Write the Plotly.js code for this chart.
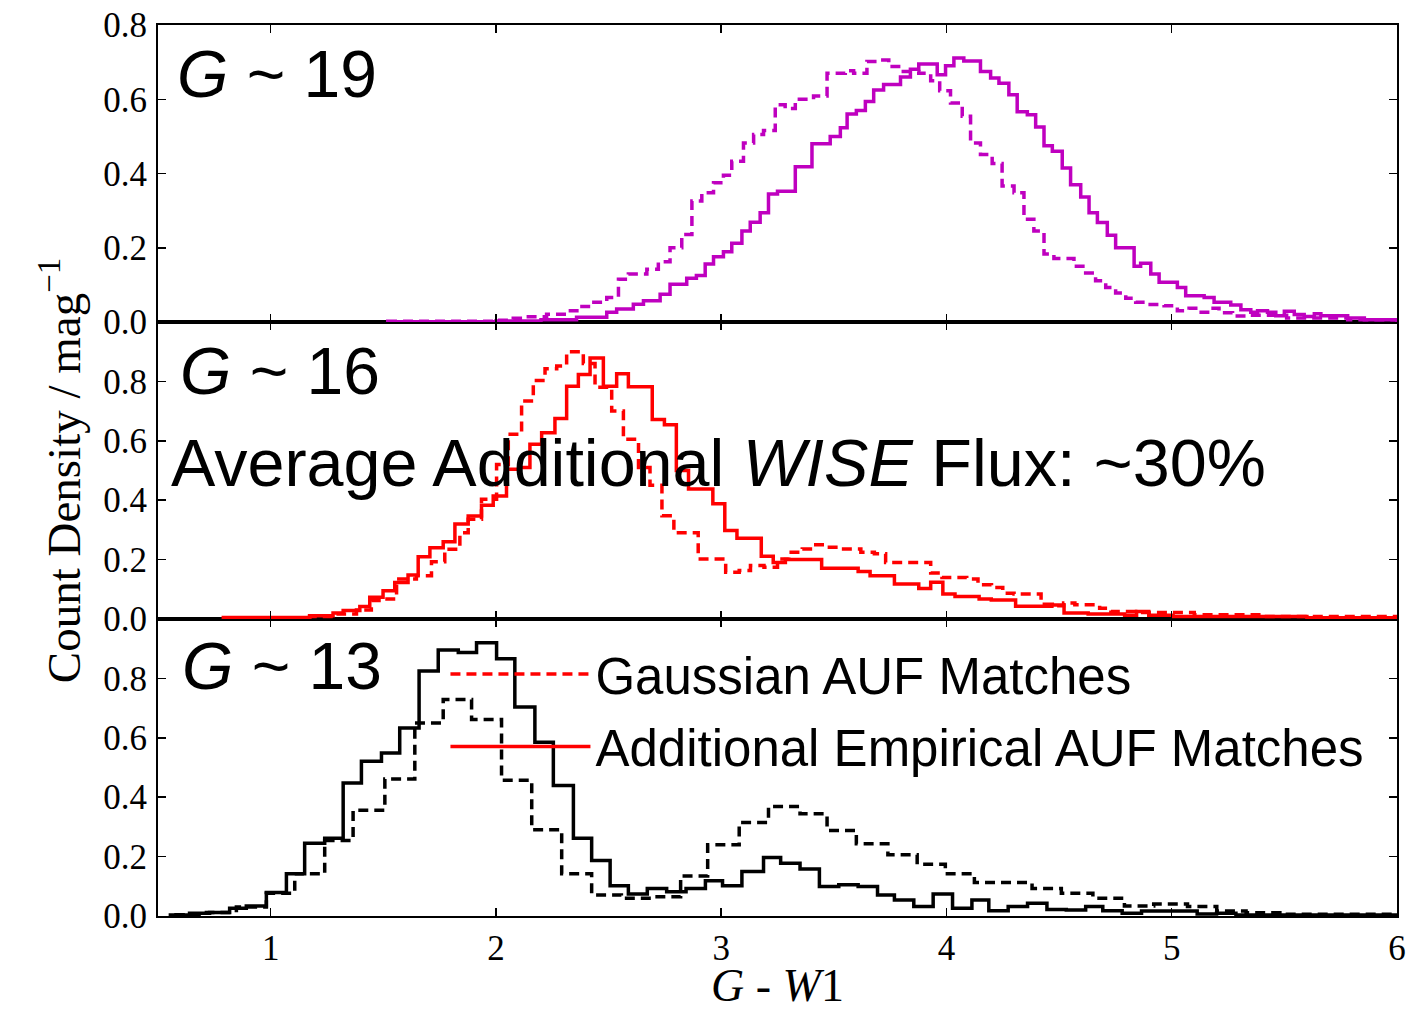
<!DOCTYPE html>
<html>
<head>
<meta charset="utf-8">
<script src="https://cdn.plot.ly/plotly-3.0.1.min.js"></script>
<style>html,body{margin:0;padding:0;background:#fff;}#chart{width:1420px;height:1011px;}</style>
</head>
<body>
<div id="chart"></div>
<script>
// ---------- G ~ 19 (top panel, magenta) ----------
const g19DashEdges = [1.52,2.003,2.077,2.136,2.225,2.314,2.373,2.425,2.492,2.544,2.588,2.67,2.721,2.773,2.825,2.87,2.914,2.966,3.01,3.047,3.099,3.144,3.188,3.24,3.284,3.329,3.41,3.47,3.551,3.588,3.647,3.692,3.744,3.80,3.877,3.93,3.97,4.018,4.07,4.107,4.151,4.203,4.247,4.30,4.344,4.388,4.433,4.477,4.566,4.618,4.662,4.707,4.751,4.796,4.84,4.892,4.966,5.025,5.077,5.122,5.173,5.21,5.27,5.336,5.51,5.781,6.0];
const g19DashVals  = [0.002,0.005,0.01,0.014,0.021,0.03,0.042,0.053,0.066,0.115,0.129,0.142,0.162,0.20,0.236,0.326,0.348,0.375,0.395,0.433,0.482,0.505,0.516,0.585,0.575,0.60,0.609,0.67,0.677,0.67,0.702,0.706,0.688,0.675,0.67,0.65,0.623,0.59,0.554,0.482,0.451,0.427,0.366,0.348,0.277,0.245,0.183,0.171,0.15,0.132,0.111,0.093,0.078,0.064,0.053,0.047,0.044,0.03,0.037,0.026,0.037,0.025,0.016,0.018,0.011,0.006];
const g19SolidEdges = [1.52,2.0,2.2,2.358,2.492,2.536,2.61,2.655,2.729,2.773,2.847,2.89,2.929,2.966,3.01,3.047,3.092,3.129,3.173,3.21,3.25,3.329,3.403,3.484,3.529,3.559,3.60,3.64,3.677,3.721,3.796,3.84,3.877,3.959,3.996,4.033,4.077,4.151,4.196,4.233,4.277,4.314,4.359,4.396,4.433,4.47,4.514,4.551,4.596,4.633,4.67,4.714,4.751,4.833,4.862,4.907,4.944,5.025,5.062,5.144,5.188,5.262,5.307,5.351,5.381,5.425,5.462,5.50,5.544,5.588,5.633,5.662,5.781,5.855,6.0];
const g19SolidVals  = [0.001,0.003,0.006,0.013,0.026,0.035,0.048,0.057,0.075,0.102,0.118,0.125,0.156,0.176,0.189,0.212,0.245,0.269,0.294,0.345,0.352,0.418,0.48,0.50,0.523,0.56,0.57,0.594,0.625,0.64,0.66,0.681,0.695,0.666,0.69,0.711,0.703,0.675,0.657,0.643,0.612,0.566,0.558,0.525,0.475,0.46,0.415,0.37,0.337,0.294,0.268,0.234,0.20,0.15,0.158,0.129,0.107,0.093,0.071,0.066,0.053,0.046,0.033,0.026,0.03,0.026,0.017,0.029,0.02,0.015,0.022,0.017,0.011,0.006];

// ---------- G ~ 16 (middle panel, red) ----------
const g16DashEdges = [1.10,1.173,1.292,1.381,1.447,1.499,1.559,1.647,1.714,1.773,1.84,1.877,1.936,2.003,2.055,2.114,2.166,2.218,2.27,2.314,2.388,2.44,2.514,2.566,2.633,2.684,2.737,2.79,2.898,3.02,3.08,3.13,3.19,3.25,3.30,3.36,3.41,3.47,3.52,3.62,3.68,3.73,3.93,3.98,4.09,4.14,4.20,4.25,4.30,4.42,4.47,4.52,4.57,4.68,4.73,4.84,5.10,5.40,6.0];
const g16DashVals  = [0.003,0.008,0.017,0.03,0.062,0.067,0.135,0.146,0.193,0.235,0.29,0.336,0.403,0.52,0.622,0.734,0.803,0.843,0.852,0.90,0.86,0.78,0.70,0.605,0.51,0.45,0.348,0.29,0.202,0.157,0.163,0.18,0.174,0.202,0.225,0.236,0.25,0.242,0.236,0.225,0.22,0.19,0.155,0.14,0.135,0.115,0.106,0.087,0.084,0.05,0.045,0.054,0.048,0.036,0.025,0.022,0.014,0.008];
const g16SolidEdges = [0.79,1.173,1.277,1.322,1.396,1.44,1.499,1.551,1.61,1.655,1.707,1.766,1.818,1.877,1.936,1.988,2.047,2.107,2.151,2.203,2.262,2.314,2.366,2.418,2.477,2.536,2.588,2.694,2.748,2.801,2.855,2.963,3.016,3.07,3.178,3.231,3.285,3.446,3.608,3.661,3.769,3.877,3.93,3.984,4.038,4.145,4.199,4.307,4.468,4.522,4.629,4.791,4.844,4.898,5.006,5.60,6.0];
const g16SolidVals  = [0.005,0.011,0.02,0.029,0.042,0.073,0.095,0.123,0.148,0.21,0.24,0.26,0.32,0.347,0.383,0.414,0.504,0.51,0.588,0.627,0.675,0.784,0.823,0.879,0.784,0.826,0.782,0.672,0.654,0.50,0.438,0.388,0.298,0.272,0.211,0.19,0.20,0.171,0.16,0.146,0.118,0.103,0.124,0.084,0.076,0.067,0.064,0.043,0.047,0.02,0.017,0.013,0.025,0.013,0.008,0.004];

// ---------- G ~ 13 (bottom panel, black) ----------
const g13DashEdges = [0.58,0.715,0.848,0.981,1.107,1.24,1.366,1.507,1.64,1.766,1.892,2.025,2.159,2.292,2.425,2.557,2.69,2.82,2.94,3.08,3.21,3.35,3.47,3.60,3.74,3.87,3.995,4.124,4.25,4.38,4.51,4.65,4.79,4.92,5.07,5.20,5.33,5.48,6.0];
const g13DashVals  = [0.004,0.012,0.03,0.077,0.142,0.254,0.356,0.461,0.65,0.729,0.662,0.457,0.29,0.142,0.071,0.06,0.065,0.135,0.24,0.315,0.369,0.344,0.288,0.243,0.206,0.174,0.142,0.113,0.113,0.093,0.077,0.06,0.034,0.04,0.032,0.017,0.011,0.006];
const g13SolidEdges = [0.555,0.64,0.729,0.818,0.892,0.981,1.07,1.151,1.24,1.322,1.403,1.492,1.573,1.659,1.744,1.833,1.914,2.003,2.084,2.173,2.255,2.344,2.425,2.507,2.588,2.672,2.758,2.844,2.93,3.006,3.092,3.188,3.264,3.35,3.436,3.522,3.608,3.694,3.769,3.855,3.941,4.027,4.113,4.188,4.274,4.36,4.446,4.532,4.618,4.694,4.78,4.866,5.113,5.199,5.285,6.0];
const g13SolidVals  = [0.003,0.009,0.012,0.026,0.034,0.079,0.142,0.245,0.262,0.448,0.521,0.549,0.633,0.825,0.896,0.887,0.92,0.866,0.704,0.585,0.439,0.262,0.187,0.102,0.074,0.093,0.082,0.093,0.119,0.102,0.15,0.197,0.178,0.158,0.099,0.105,0.099,0.071,0.054,0.032,0.074,0.026,0.054,0.018,0.032,0.043,0.022,0.02,0.032,0.018,0.009,0.017,0.007,0.009,0.003];

const panelLabels = ['<i>G</i> ~ 19', '<i>G</i> ~ 16', '<i>G</i> ~ 13'];
const fluxText = 'Average Additional <i>WISE</i> Flux: ~30%';
const legendNames = ['Gaussian AUF Matches', 'Additional Empirical AUF Matches'];
const yTicks = [0, 0.2, 0.4, 0.6, 0.8];
const yTickText = ['0.0', '0.2', '0.4', '0.6', '0.8'];
const xTicks = [1, 2, 3, 4, 5, 6];

function stepTrace(edges, vals, axis, color, dash, name, showlegend, group) {
  const x = [edges[0]], y = [0];
  for (let i = 0; i < vals.length; i++) { x.push(edges[i]); y.push(vals[i]); }
  x.push(edges[edges.length - 1]); y.push(vals[vals.length - 1]);
  x.push(edges[edges.length - 1]); y.push(0);
  const t = {
    type: 'scatter', mode: 'lines', x: x, y: y,
    xaxis: axis.x, yaxis: axis.y,
    line: {shape: 'hv', color: color, width: 3.5, dash: dash},
    showlegend: !!showlegend, hoverinfo: 'skip'
  };
  if (name) t.name = name;
  if (group) t.legendgroup = group;
  return t;
}

const MAG = '#bf00bf', RED = '#ff0000', BLK = '#000000';
const DASH = '10px,6px';
const panelTop = {x: 'x3', y: 'y3'}, panelMid = {x: 'x2', y: 'y2'}, panelBot = {x: 'x', y: 'y'};

const data = [
  stepTrace(g16DashEdges, g16DashVals, panelMid, RED, DASH, legendNames[0], true, 'g'),
  stepTrace(g16SolidEdges, g16SolidVals, panelMid, RED, 'solid', legendNames[1], true, 'e'),
  stepTrace(g19DashEdges, g19DashVals, panelTop, MAG, DASH),
  stepTrace(g19SolidEdges, g19SolidVals, panelTop, MAG, 'solid'),
  stepTrace(g13DashEdges, g13DashVals, panelBot, BLK, DASH),
  stepTrace(g13SolidEdges, g13SolidVals, panelBot, BLK, 'solid')
];

const tickFont = {family: 'Liberation Serif, Times New Roman, serif', size: 35, color: '#000'};
function xAx(anchor, labels) {
  return {
    anchor: anchor, range: [0.5, 6], tickmode: 'array', tickvals: xTicks,
    ticktext: xTicks.map(String), showticklabels: labels,
    ticks: 'inside', ticklen: 8, tickwidth: 1.5, tickcolor: '#000',
    showline: true, linewidth: 2, linecolor: '#000', mirror: 'ticks',
    showgrid: false, zeroline: false, tickfont: tickFont
  };
}
function yAx(domain, range) {
  return {
    domain: domain, range: range, anchor: 'x', tickmode: 'array',
    tickvals: yTicks, ticktext: yTickText,
    ticks: 'inside', ticklen: 8, tickwidth: 1.5, tickcolor: '#000',
    showline: true, linewidth: 2, linecolor: '#000', mirror: 'ticks',
    showgrid: false, zeroline: false, tickfont: tickFont, ticklabelstandoff: 2
  };
}

const sans = 'Liberation Sans, Arial, sans-serif';
const layout = {
  width: 1420, height: 1011,
  margin: {l: 158, r: 23, t: 25, b: 95},
  paper_bgcolor: '#fff', plot_bgcolor: '#fff',
  showlegend: true,
  xaxis: Object.assign(xAx('y', true), {
    title: {text: '<i>G</i> - <i>W</i>1', font: {family: 'Liberation Serif, serif', size: 46, color: '#000'}, standoff: 10}
  }),
  xaxis2: Object.assign(xAx('y2', false), {matches: 'x'}),
  xaxis3: Object.assign(xAx('y3', false), {matches: 'x'}),
  yaxis: yAx([0, 1/3], [0, 1.0]),
  yaxis2: Object.assign(yAx([1/3, 2/3], [0, 1.0]), {anchor: 'x2',
    title: {text: 'Count Density / mag<sup>\u22121</sup>', font: {family: 'Liberation Serif, serif', size: 47, color: '#000'}, standoff: 8}}),
  yaxis3: Object.assign(yAx([2/3, 1], [0, 0.8]), {anchor: 'x3'}),
  legend: {
    x: 0.232, y: 0.316, xanchor: 'left', yanchor: 'top',
    bgcolor: 'rgba(0,0,0,0)', borderwidth: 0, itemwidth: 140,
    font: {family: sans, size: 51, color: '#000'}, tracegroupgap: 3
  },
  annotations: [
    {text: panelLabels[0], xref: 'paper', yref: 'paper', x: 0.014, y: 0.945, xanchor: 'left', yanchor: 'middle', showarrow: false, font: {family: sans, size: 66, color: '#000'}},
    {text: panelLabels[1], xref: 'paper', yref: 'paper', x: 0.016, y: 0.612, xanchor: 'left', yanchor: 'middle', showarrow: false, font: {family: sans, size: 66, color: '#000'}},
    {text: fluxText, xref: 'paper', yref: 'paper', x: 0.009, y: 0.508, xanchor: 'left', yanchor: 'middle', showarrow: false, font: {family: sans, size: 66.5, color: '#000'}},
    {text: panelLabels[2], xref: 'paper', yref: 'paper', x: 0.018, y: 0.281, xanchor: 'left', yanchor: 'middle', showarrow: false, font: {family: sans, size: 66, color: '#000'}}
  ]
};

Plotly.newPlot('chart', data, layout, {staticPlot: true, displayModeBar: false});
</script>
</body>
</html>
